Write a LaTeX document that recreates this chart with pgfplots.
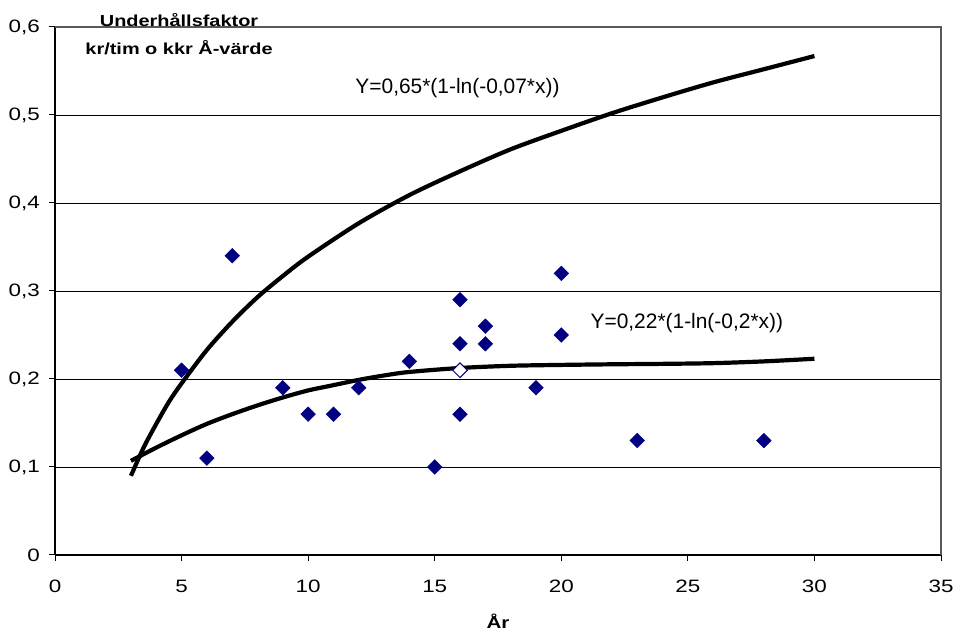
\documentclass[border=0pt]{standalone}
\usepackage{pgfplots}
\pgfplotsset{compat=1.18}
\usepackage{fontspec}
\setmainfont{Liberation Sans}
\newfontfamily\tickfont{Liberation Sans}[FakeStretch=1.25]
\newfontfamily\titlefont{Liberation Sans}[FakeStretch=1.25]
\definecolor{navy}{RGB}{0,0,128}

\begin{document}
\begin{tikzpicture}
\begin{axis}[
  scale only axis, width=886bp, height=528bp,
  xmin=0, xmax=35, ymin=0, ymax=0.6,
  xtick={0,5,10,15,20,25,30,35},
  ytick={0,0.1,0.2,0.3,0.4,0.5,0.6},
  axis x line*=bottom, axis y line*=left,
  axis line style={black, line width=1.3bp, -},
  tick align=outside, major tick length=6bp,
  tick style={black, line width=1bp},
  ymajorgrids, grid style={black, line width=0.8bp},
  /pgf/number format/use comma,
  /pgf/number format/fixed,
  /pgf/number format/precision=1,
  /pgf/number format/assume math mode=true,
  ticklabel style={font=\tickfont\fontsize{18}{18}\selectfont, inner sep=0pt},
  xticklabel style={anchor=center, yshift=-25bp},
  yticklabel style={anchor=east, xshift=-9bp},
  xlabel={År},
  xlabel style={at={(axis description cs:0.5,0)}, anchor=center, yshift=-66bp, font=\titlefont\bfseries\fontsize{16.5}{16.5}\selectfont},
  clip=false,
]
\coordinate (sw) at (rel axis cs:0,0);
\coordinate (ne) at (rel axis cs:1,1);
\draw[black!65, line width=1.3bp] (rel axis cs:0,1) -- (rel axis cs:1,1) -- (rel axis cs:1,0);

\addplot[only marks, mark=square*, mark size=5.2bp, mark options={rotate=45, fill=navy, draw=navy}] coordinates {
 (5,0.21) (6,0.11) (7,0.34) (9,0.19) (10,0.16) (11,0.16) (12,0.19) (14,0.22)
 (15,0.10) (16,0.29) (16,0.24) (16,0.16) (17,0.26) (17,0.24) (19,0.19)
 (20,0.32) (20,0.25) (23,0.13) (28,0.13)
};
\addplot[only marks, mark=square*, mark size=5.2bp, mark options={rotate=45, fill=white, draw=navy, line width=1bp}] coordinates {
 (16,0.21)
};

\addplot[black, line width=4.2bp, smooth] coordinates {
 (3,0.090) (3.5,0.122) (4,0.149) (4.5,0.174) (5,0.195) (6,0.233) (7,0.265) (8,0.293) (9,0.317) (10,0.339)
 (12,0.377) (14,0.409) (16,0.436) (18,0.461) (20,0.482) (22,0.502) (24,0.520)
 (26,0.537) (28,0.552) (30,0.567)
};
\addplot[black, line width=4.2bp, smooth] coordinates {
 (3,0.107) (4,0.122) (5,0.136) (6,0.149) (7,0.160) (8,0.170) (9,0.179) (10,0.187)
 (11,0.193) (12,0.199) (13,0.204) (14,0.208) (16,0.2125) (18,0.215) (20,0.216)
 (22,0.2167) (24,0.2172) (26,0.218) (28,0.220) (30,0.223)
};

\node[font=\fontsize{21}{21}\selectfont, inner sep=0pt] at (axis cs:15.90,0.531) {Y=0,65*(1-ln(-0,07*x))};
\node[font=\fontsize{21}{21}\selectfont, inner sep=0pt] at (axis cs:24.96,0.264) {Y=0,22*(1-ln(-0,2*x))};
\node[font=\titlefont\bfseries\fontsize{16}{16}\selectfont, inner sep=0pt] at (axis cs:4.90,0.608) {Underhållsfaktor};
\node[font=\titlefont\bfseries\fontsize{16}{16}\selectfont, inner sep=0pt] at (axis cs:4.90,0.577) {kr/tim o kkr Å-värde};
\end{axis}
\pgfresetboundingbox
\path[use as bounding box] ([xshift=-55bp,yshift=-79bp]sw) rectangle ([xshift=19bp,yshift=27bp]ne);
\end{tikzpicture}
\end{document}
